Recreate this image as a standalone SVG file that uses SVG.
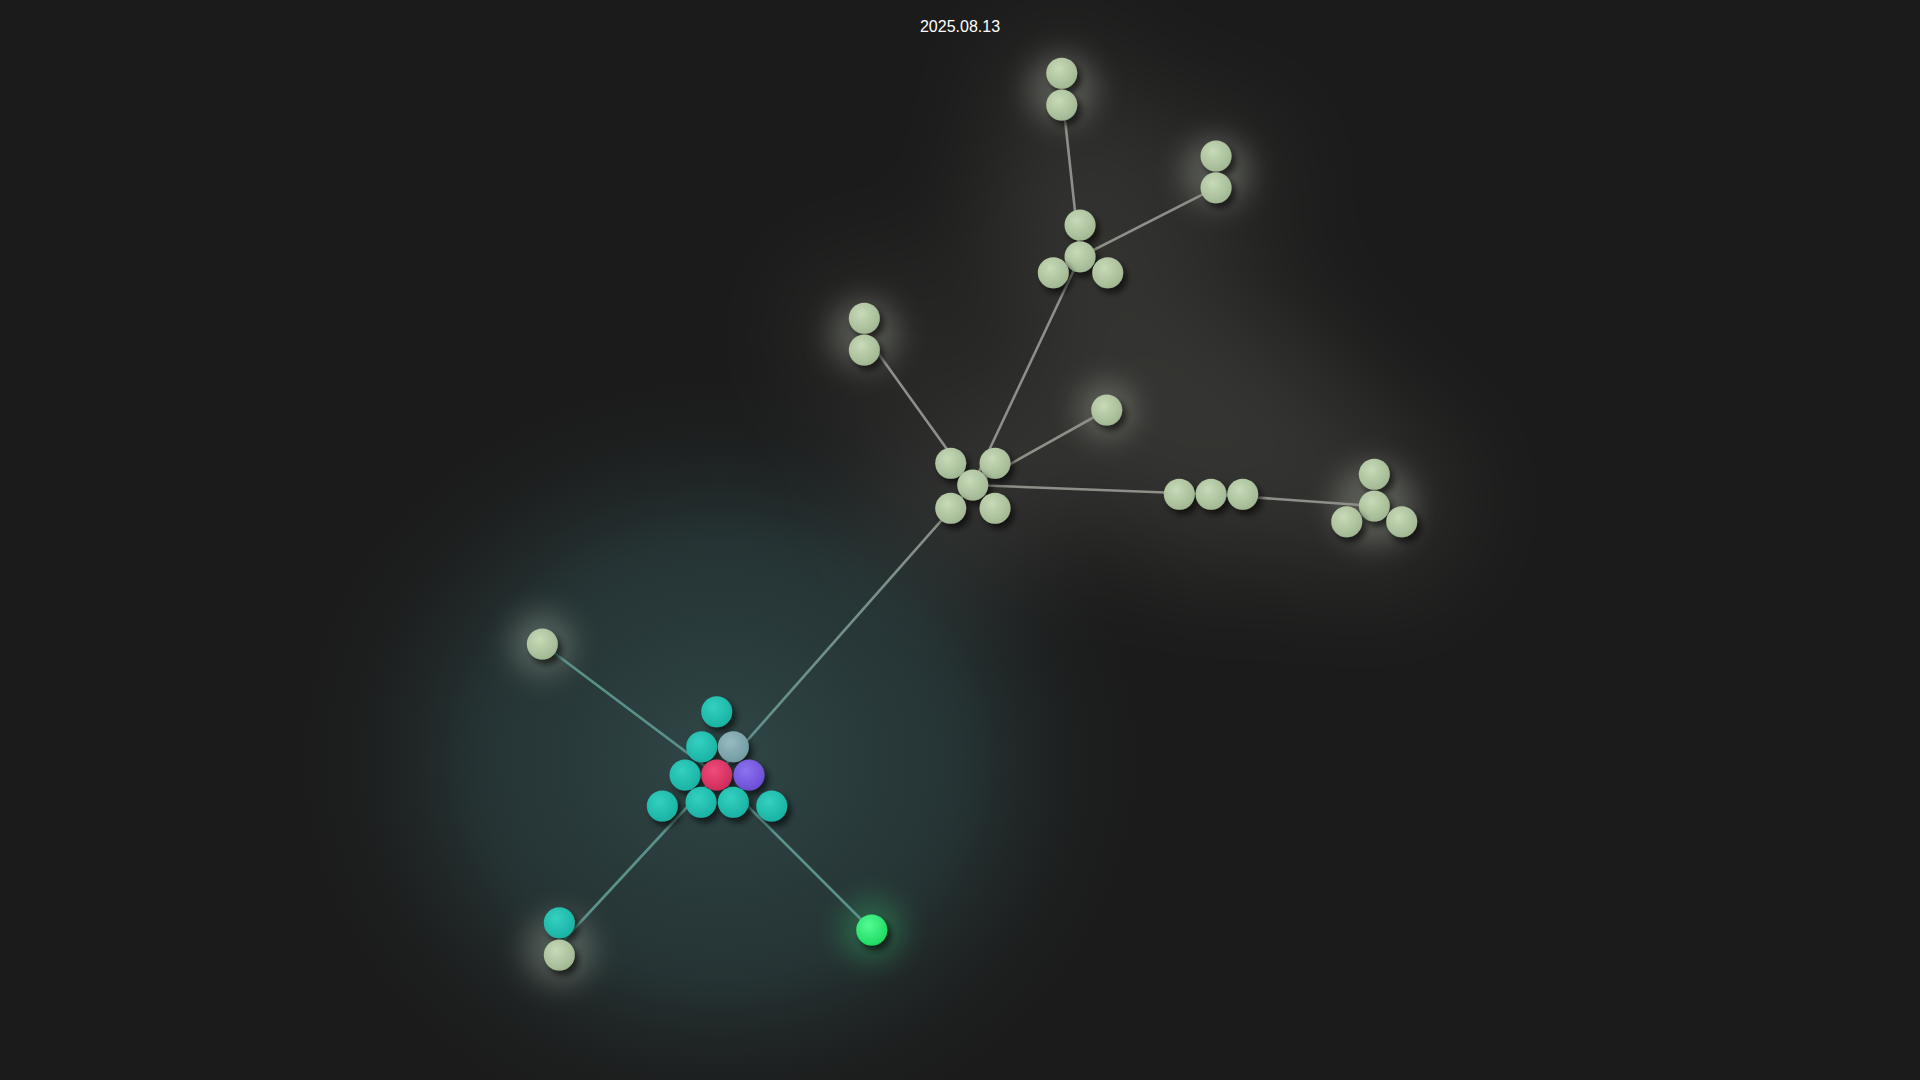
<svg xmlns="http://www.w3.org/2000/svg" width="1920" height="1080" viewBox="0 0 1920 1080">
<style>
.edge{fill:none;stroke-width:2.6;stroke-linecap:round}
.g{stroke:#8f8f89}
.t{stroke:#5a918b}
.ball{filter:url(#shadow)}
.lg{fill:url(#gLight)}
.tl{fill:url(#gTeal)}
.halo{fill:#dfe8d2;opacity:0.24;filter:url(#blur14)}
.label{font-family:"Liberation Sans",Arial,sans-serif;font-size:16px;fill:#ffffff;text-anchor:middle}
</style>
<defs>
<filter id="shadow" x="-50%" y="-50%" width="220%" height="220%">
<feDropShadow dx="4" dy="5" stdDeviation="3" flood-color="#000" flood-opacity="0.6"/>
</filter>
<filter id="blur14" x="-100%" y="-100%" width="300%" height="300%"><feGaussianBlur stdDeviation="14"/></filter>
<filter id="blur60" x="-100%" y="-100%" width="300%" height="300%"><feGaussianBlur stdDeviation="60"/></filter>
<radialGradient id="gLight" cx="40%" cy="35%" r="65%"><stop offset="0" stop-color="#c8dab8"/><stop offset="1" stop-color="#a2b893"/></radialGradient>
<radialGradient id="gTeal" cx="40%" cy="35%" r="65%"><stop offset="0" stop-color="#34d0c0"/><stop offset="1" stop-color="#1ab3a4"/></radialGradient>
<radialGradient id="gRed" cx="40%" cy="35%" r="65%"><stop offset="0" stop-color="#ee4c7a"/><stop offset="1" stop-color="#cf2c5c"/></radialGradient>
<radialGradient id="gPurple" cx="40%" cy="35%" r="65%"><stop offset="0" stop-color="#8c72ee"/><stop offset="1" stop-color="#6b4fd6"/></radialGradient>
<radialGradient id="gBlue" cx="40%" cy="35%" r="65%"><stop offset="0" stop-color="#97bbc1"/><stop offset="1" stop-color="#749ca3"/></radialGradient>
<radialGradient id="gGreen" cx="40%" cy="35%" r="65%"><stop offset="0" stop-color="#55fa95"/><stop offset="1" stop-color="#1fdc62"/></radialGradient>
<radialGradient id="tealGlow" cx="50%" cy="50%" r="50%"><stop offset="0" stop-color="#304747" stop-opacity="1"/><stop offset="0.55" stop-color="#28393a" stop-opacity="0.8"/><stop offset="1" stop-color="#1c1c1c" stop-opacity="0"/></radialGradient>
<linearGradient id="hubEdge" gradientUnits="userSpaceOnUse" x1="972.7" y1="485" x2="716.7" y2="775"><stop offset="0" stop-color="#8f8f89"/><stop offset="1" stop-color="#5a918b"/></linearGradient>
</defs>
<rect width="1920" height="1080" fill="#1b1b1b"/>
<g id="glow">
<ellipse cx="720" cy="760" rx="440" ry="400" fill="url(#tealGlow)"/>
<g filter="url(#blur60)" fill="#c8c8b8" opacity="0.15">
<circle cx="975" cy="480" r="90"/>
<circle cx="1060" cy="250" r="80"/>
<circle cx="1080" cy="170" r="70"/>
<circle cx="1210" cy="180" r="60"/>
<circle cx="1210" cy="490" r="80"/>
<circle cx="1370" cy="500" r="80"/>
<circle cx="1100" cy="420" r="90"/>
<circle cx="1250" cy="400" r="90"/>
<circle cx="870" cy="335" r="60"/>
<circle cx="1060" cy="90" r="50"/>
<circle cx="1160" cy="320" r="70"/>
</g>
<circle cx="1061.7" cy="89" r="36" class="halo"/>
<circle cx="1216" cy="172" r="36" class="halo"/>
<circle cx="864.3" cy="334" r="36" class="halo"/>
<circle cx="1106.7" cy="410" r="30" class="halo"/>
<circle cx="542.3" cy="644" r="32" class="halo"/>
<circle cx="559.3" cy="950" r="36" class="halo"/>
<circle cx="1374" cy="505" r="42" class="halo" opacity="0.16"/>
<circle cx="871.7" cy="930" r="32" fill="#3cff8a" opacity="0.22" filter="url(#blur14)"/>
</g>
<g id="connectors">
<line class="edge g" x1="972.7" y1="485" x2="864.3" y2="334"/>
<line class="edge g" x1="972.7" y1="485" x2="1080" y2="257"/>
<line class="edge g" x1="972.7" y1="485" x2="1106.7" y2="410"/>
<line class="edge g" x1="972.7" y1="485" x2="1211" y2="494.3"/>
<line class="edge g" x1="1211" y1="494.3" x2="1374.3" y2="506"/>
<line class="edge g" x1="1080" y1="257" x2="1061.7" y2="89"/>
<line class="edge g" x1="1080" y1="257" x2="1216" y2="187.7"/>
<line class="edge" stroke="url(#hubEdge)" x1="972.7" y1="485" x2="716.7" y2="775"/>
<line class="edge t" x1="716.7" y1="775" x2="542.3" y2="644"/>
<line class="edge t" x1="716.7" y1="775" x2="559.3" y2="945"/>
<line class="edge t" x1="716.7" y1="775" x2="871.7" y2="930"/>
</g>
<g id="node-triangle">
<circle class="ball tl" cx="716.7" cy="711.7" r="15.5"/>
<circle class="ball tl" cx="701.7" cy="746.7" r="15.5"/>
<circle class="ball" fill="url(#gBlue)" cx="733.3" cy="746.7" r="15.5"/>
<circle class="ball tl" cx="685" cy="775" r="15.5"/>
<circle class="ball" fill="url(#gRed)" cx="716.7" cy="775" r="15.5"/>
<circle class="ball" fill="url(#gPurple)" cx="749" cy="775" r="15.5"/>
<circle class="ball tl" cx="662.3" cy="806" r="15.5"/>
<circle class="ball tl" cx="701" cy="802.3" r="15.5"/>
<circle class="ball tl" cx="733.3" cy="802.3" r="15.5"/>
<circle class="ball tl" cx="771.7" cy="806" r="15.5"/>
</g>
<g id="node-hub">
<circle class="ball lg" cx="950.7" cy="463.3" r="15.5"/>
<circle class="ball lg" cx="995" cy="463.3" r="15.5"/>
<circle class="ball lg" cx="972.7" cy="485" r="15.5"/>
<circle class="ball lg" cx="950.7" cy="508.3" r="15.5"/>
<circle class="ball lg" cx="995" cy="508.3" r="15.5"/>
</g>
<g id="node-upper-cluster">
<circle class="ball lg" cx="1080" cy="225" r="15.5"/>
<circle class="ball lg" cx="1080" cy="256.7" r="15.5"/>
<circle class="ball lg" cx="1053.3" cy="272.7" r="15.5"/>
<circle class="ball lg" cx="1107.7" cy="272.7" r="15.5"/>
</g>
<g id="node-top-pair">
<circle class="ball lg" cx="1061.7" cy="73.3" r="15.5"/>
<circle class="ball lg" cx="1061.7" cy="105" r="15.5"/>
</g>
<g id="node-right-pair">
<circle class="ball lg" cx="1216" cy="156" r="15.5"/>
<circle class="ball lg" cx="1216" cy="187.7" r="15.5"/>
</g>
<g id="node-left-pair">
<circle class="ball lg" cx="864.3" cy="318.3" r="15.5"/>
<circle class="ball lg" cx="864.3" cy="350" r="15.5"/>
</g>
<g id="node-lone-right">
<circle class="ball lg" cx="1106.7" cy="410" r="15.5"/>
</g>
<g id="node-row">
<circle class="ball lg" cx="1179.3" cy="494.3" r="15.5"/>
<circle class="ball lg" cx="1211" cy="494.3" r="15.5"/>
<circle class="ball lg" cx="1242.7" cy="494.3" r="15.5"/>
</g>
<g id="node-far-cluster">
<circle class="ball lg" cx="1374.3" cy="474.3" r="15.5"/>
<circle class="ball lg" cx="1374.3" cy="506" r="15.5"/>
<circle class="ball lg" cx="1346.7" cy="521.7" r="15.5"/>
<circle class="ball lg" cx="1401.7" cy="521.7" r="15.5"/>
</g>
<g id="node-lone-left">
<circle class="ball lg" cx="542.3" cy="644" r="15.5"/>
</g>
<g id="node-bottom-pair">
<circle class="ball tl" cx="559.3" cy="922.7" r="15.5"/>
<circle class="ball lg" cx="559.3" cy="955" r="15.5"/>
</g>
<g id="node-green">
<circle class="ball" fill="url(#gGreen)" cx="871.7" cy="930" r="15.5"/>
</g>
<text class="label" x="960" y="32">2025.08.13</text>
</svg>
